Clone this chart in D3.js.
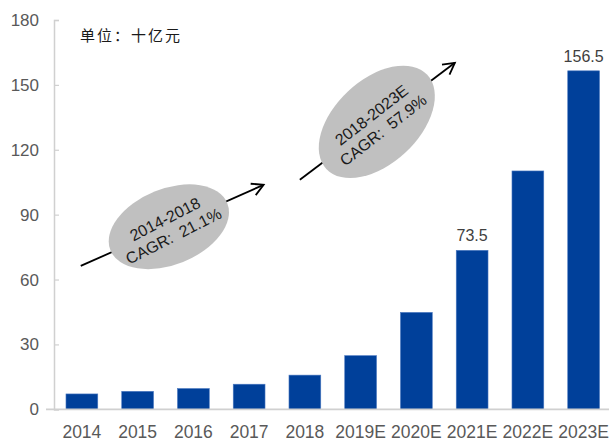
<!DOCTYPE html>
<html>
<head>
<meta charset="utf-8">
<script src="https://cdn.jsdelivr.net/npm/d3@7"></script>
<style>
  html, body { margin: 0; padding: 0; background: #fff; }
  svg { display: block; }
</style>
</head>
<body>
<svg id="chart" width="609" height="441"></svg>
<script>
// Market size, billion yuan
const categories = ["2014", "2015", "2016", "2017", "2018", "2019E", "2020E", "2021E", "2022E", "2023E"];
const values = [7.1, 8.3, 9.6, 11.6, 15.8, 24.8, 44.8, 73.5, 110.2, 156.5];
const labelled = ["2021E", "2023E"];
const yTicks = [0, 30, 60, 90, 120, 150, 180];
const unitText = "单位：十亿元";

// CAGR call-outs: position in category-index / value space
const growthNotes = [
  { lines: ["2014-2018", "CAGR:  21.1%"], cx: 1.56, cy: 84.4, rx: 63, ry: 38, angle: -22, textAngle: -27,
    from: [-0.02, 66.3], to: [3.26, 103.8] },
  { lines: ["2018-2023E", "CAGR:  57.9%"], cx: 5.29, cy: 132.9, rx: 69, ry: 42, angle: -43, textAngle: -38,
    from: [3.91, 106.1], to: [6.69, 160.2] }
];

const svg = d3.select("#chart");
const axisColor = "#d0d0d0";
const labelColor = "#595959";
const barColor = "#00409a";

const x = d3.scaleBand()
  .domain(categories)
  .range([54, 611.5])
  .paddingInner(0.43)
  .paddingOuter(0.215);

const y = d3.scaleLinear().domain([0, 180]).range([409.3, 20]);

// category index -> pixel (for annotations between bars)
const xi = d3.scaleLinear()
  .domain([0, categories.length - 1])
  .range([x(categories[0]) + x.bandwidth() / 2, x(categories[categories.length - 1]) + x.bandwidth() / 2]);

// y axis
const yAxis = svg.append("g")
  .attr("transform", "translate(54,0)")
  .call(d3.axisRight(y).tickValues(yTicks).tickSize(5).tickFormat(""));
yAxis.select(".domain").attr("stroke", axisColor).attr("stroke-width", 1.5);
yAxis.selectAll(".tick line").attr("stroke", axisColor).attr("stroke-width", 1.2);

svg.append("g").selectAll("text")
  .data(yTicks)
  .join("text")
  .attr("x", 39)
  .attr("y", d => y(d) + 6)
  .attr("text-anchor", "end")
  .attr("font-family", "Liberation Sans, Arial, sans-serif")
  .attr("font-size", 17)
  .attr("fill", labelColor)
  .text(d => d);

// bars
svg.append("g").selectAll("rect")
  .data(categories)
  .join("rect")
  .attr("x", d => x(d))
  .attr("width", x.bandwidth())
  .attr("y", (d, i) => y(values[i]))
  .attr("height", (d, i) => y(0) - y(values[i]))
  .attr("fill", barColor)
  .attr("stroke", "#4a78c0")
  .attr("stroke-width", 0.6);

// x axis baseline
svg.append("line")
  .attr("x1", 46).attr("x2", 609)
  .attr("y1", y(0)).attr("y2", y(0))
  .attr("stroke", axisColor).attr("stroke-width", 1.8);

svg.append("g").selectAll("text")
  .data(categories)
  .join("text")
  .attr("x", d => x(d) + x.bandwidth() / 2)
  .attr("y", 438)
  .attr("text-anchor", "middle")
  .attr("font-family", "Liberation Sans, Arial, sans-serif")
  .attr("font-size", 17.5)
  .attr("fill", labelColor)
  .text(d => d);

// value labels
svg.append("g").selectAll("text")
  .data(categories.filter(c => labelled.includes(c)))
  .join("text")
  .attr("x", d => x(d) + x.bandwidth() / 2)
  .attr("y", d => y(values[categories.indexOf(d)]) - 9)
  .attr("text-anchor", "middle")
  .attr("font-family", "Liberation Sans, Arial, sans-serif")
  .attr("font-size", 16)
  .attr("fill", "#404040")
  .text(d => values[categories.indexOf(d)]);

// unit note
svg.append("text")
  .attr("x", 80)
  .attr("y", 41)
  .attr("font-family", "Noto Sans CJK SC, sans-serif")
  .attr("font-size", 15)
  .attr("letter-spacing", 2)
  .attr("fill", "#1a1a1a")
  .text(unitText);

// growth call-outs: arrow, ellipse, rotated text
const notes = svg.append("g");
growthNotes.forEach(n => {
  const x1 = xi(n.from[0]), y1 = y(n.from[1]);
  const x2 = xi(n.to[0]), y2 = y(n.to[1]);
  const ang = Math.atan2(y2 - y1, x2 - x1);
  const head = 13, spread = 0.5;
  notes.append("line")
    .attr("x1", x1).attr("y1", y1).attr("x2", x2).attr("y2", y2)
    .attr("stroke", "#000").attr("stroke-width", 1.8);
  notes.append("path")
    .attr("d", `M${x2 - head * Math.cos(ang - spread)},${y2 - head * Math.sin(ang - spread)}L${x2},${y2}L${x2 - head * Math.cos(ang + spread)},${y2 - head * Math.sin(ang + spread)}`)
    .attr("fill", "none").attr("stroke", "#000").attr("stroke-width", 1.8)
    .attr("stroke-linejoin", "miter");

  const cx = xi(n.cx), cy = y(n.cy);
  const g = notes.append("g").attr("transform", `translate(${cx},${cy})`);
  g.append("ellipse")
    .attr("rx", n.rx).attr("ry", n.ry)
    .attr("transform", `rotate(${n.angle})`)
    .attr("fill", "#c0c0c0");
  const t = g.append("text")
    .attr("transform", `rotate(${n.textAngle})`)
    .attr("text-anchor", "middle")
    .attr("font-family", "Liberation Sans, Arial, sans-serif")
    .attr("font-size", 16)
    .attr("fill", "#1a1a1a")
    .style("white-space", "pre");
  n.lines.forEach((s, i) => {
    t.append("tspan").attr("x", 0).attr("y", i === 0 ? -3 : 16).text(s);
  });
});
</script>
</body>
</html>
